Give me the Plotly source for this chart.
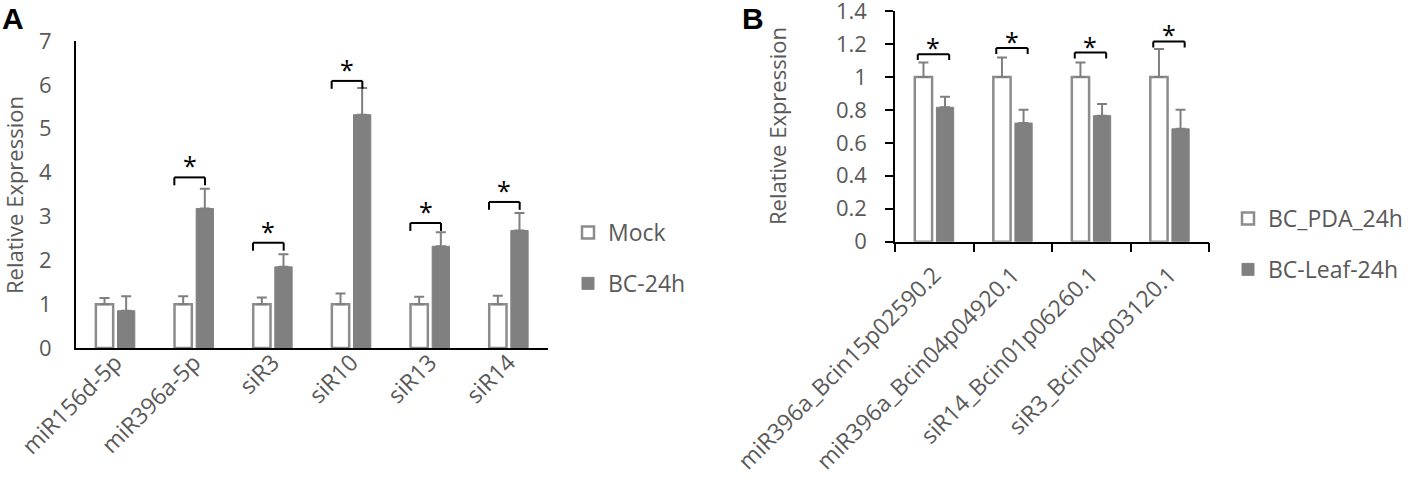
import plotly.graph_objects as go

# panel A data
cats_a = ['miR156d-5p', 'miR396a-5p', 'siR3', 'siR10', 'siR13', 'siR14']
mock_a = [1.0, 1.0, 1.0, 1.0, 1.0, 1.0]
mock_a_err = [0.14, 0.18, 0.15, 0.24, 0.17, 0.19]
bc_a = [0.85, 3.18, 1.85, 5.32, 2.32, 2.68]
bc_a_err = [0.33, 0.45, 0.29, 0.61, 0.32, 0.40]
sig_a = [None, 3.89, 2.40, 6.09, 2.85, 3.33]   # bracket heights

# panel B data
cats_b = ['miR396a_Bcin15p02590.2', 'miR396a_Bcin04p04920.1',
          'siR14_Bcin01p06260.1', 'siR3_Bcin04p03120.1']
pda_b = [1.0, 1.0, 1.0, 1.0]
pda_b_err = [0.088, 0.118, 0.088, 0.17]
leaf_b = [0.816, 0.72, 0.765, 0.685]
leaf_b_err = [0.064, 0.08, 0.071, 0.115]
sig_b = [1.138, 1.175, 1.148, 1.215]

W, H = 1414, 482
FONT = 'Open Sans'
GREY_TXT = '#595959'
OUTLINE = '#8c8c8c'
FILL = '#808080'


def err(vals):
    return dict(type='data', symmetric=False, array=vals, arrayminus=[0] * len(vals),
                color='#7f7f7f', thickness=2, width=5)


fig = go.Figure()
fig.add_trace(go.Bar(x=cats_a, y=mock_a, name='Mock', error_y=err(mock_a_err),
                     marker=dict(color='white', line=dict(color=OUTLINE, width=2.5)),
                     xaxis='x', yaxis='y', legend='legend', legendgroup='a1'))
fig.add_trace(go.Bar(x=cats_a, y=bc_a, name='BC-24h', error_y=err(bc_a_err),
                     marker=dict(color=FILL, line=dict(color=FILL, width=1)),
                     xaxis='x', yaxis='y', legend='legend', legendgroup='a2'))
fig.add_trace(go.Bar(x=cats_b, y=pda_b, name='BC_PDA_24h', error_y=err(pda_b_err),
                     marker=dict(color='white', line=dict(color=OUTLINE, width=2.5)),
                     xaxis='x2', yaxis='y2', legend='legend2', legendgroup='b1'))
fig.add_trace(go.Bar(x=cats_b, y=leaf_b, name='BC-Leaf-24h', error_y=err(leaf_b_err),
                     marker=dict(color=FILL, line=dict(color=FILL, width=1)),
                     xaxis='x2', yaxis='y2', legend='legend2', legendgroup='b2'))

shapes = []
annotations = []


def brackets(heights, xr, yr, left, right, leg, star_shift):
    for i, h in enumerate(heights):
        if h is None:
            continue
        x0, x1 = i + left, i + right
        line = dict(color='black', width=2)
        shapes.append(dict(type='line', xref=xr, yref=yr, x0=x0, x1=x1, y0=h, y1=h, line=line))
        shapes.append(dict(type='line', xref=xr, yref=yr, x0=x0, x1=x0, y0=h - leg, y1=h, line=line))
        shapes.append(dict(type='line', xref=xr, yref=yr, x0=x1, x1=x1, y0=h - leg, y1=h, line=line))
        annotations.append(dict(text='*', x=(x0 + x1) / 2, y=h, xref=xr, yref=yr,
                                showarrow=False, yanchor='bottom', yshift=star_shift,
                                font=dict(family=FONT, size=25, color='black')))


brackets(sig_a, 'x', 'y', -0.25, 0.14, 0.18, -7)
brackets(sig_b, 'x2', 'y2', -0.21, 0.19, 0.036, -12)

# y axis titles and panel letters
for xpx, ypx in [(14, 195), (777, 126)]:
    annotations.append(dict(text='Relative Expression', textangle=-90, xref='paper', yref='paper',
                            x=xpx / W, y=1 - ypx / H, xanchor='center', yanchor='middle',
                            showarrow=False, font=dict(family=FONT, size=22, color=GREY_TXT)))
for txt, xpx in [('A', 0), ('B', 740)]:
    annotations.append(dict(text='<b>%s</b>' % txt, xref='paper', yref='paper', x=xpx / W, y=1,
                            xanchor='left', yanchor='top', showarrow=False,
                            font=dict(family='Liberation Sans', size=30, color='black')))

tickfont = dict(family=FONT, size=22, color=GREY_TXT)
xfont = dict(family=FONT, size=23, color=GREY_TXT)

fig.update_layout(
    width=W, height=H,
    margin=dict(l=0, r=0, t=0, b=0, autoexpand=False),
    plot_bgcolor='white', paper_bgcolor='white',
    barmode='group', bargap=0.45, bargroupgap=0.2,
    shapes=shapes, annotations=annotations,
    xaxis=dict(domain=[76 / W, 548 / W], anchor='y', showline=True, linecolor='black',
               linewidth=2, ticks='', tickangle=-45, tickfont=xfont, ticklabelstandoff=-10,
               showgrid=False),
    yaxis=dict(domain=[1 - 348 / H, 1 - 41 / H], anchor='x', range=[0, 7], dtick=1,
               showline=True, linecolor='black', linewidth=2, ticks='', showgrid=False,
               zeroline=False, tickfont=tickfont, ticklabelstandoff=18,
               ticklabeloverflow='allow'),
    xaxis2=dict(domain=[895 / W, 1209 / W], anchor='y2', showline=True, linecolor='black',
                linewidth=1.5, ticks='outside', tickson='boundaries', ticklen=9,
                tickcolor='black', tickwidth=1.5, tickangle=-45, tickfont=xfont,
                ticklabelstandoff=9, showgrid=False),
    yaxis2=dict(domain=[1 - 241.7 / H, 1 - 11 / H], anchor='x2', range=[0, 1.40001], tick0=0,
                dtick=0.2, showline=True, linecolor='black', linewidth=1.5, ticks='outside',
                ticklen=8, tickcolor='black', tickwidth=1.5, showgrid=False, zeroline=False,
                tickfont=tickfont, ticklabelstandoff=14, ticklabeloverflow='allow'),
    legend=dict(x=568 / W, y=1 - 211 / H, xanchor='left', yanchor='top', tracegroupgap=18,
                font=dict(family=FONT, size=23, color=GREY_TXT), bgcolor='rgba(0,0,0,0)'),
    legend2=dict(x=1228 / W, y=1 - 197 / H, xanchor='left', yanchor='top', tracegroupgap=18,
                 font=dict(family=FONT, size=23, color=GREY_TXT), bgcolor='rgba(0,0,0,0)'),
)

# the page body has a default 8px margin; drop it so the figure sits at the window corner
fig.write_html('out.html', config={'displayModeBar': False},
               post_script="document.body.style.margin='0';")
